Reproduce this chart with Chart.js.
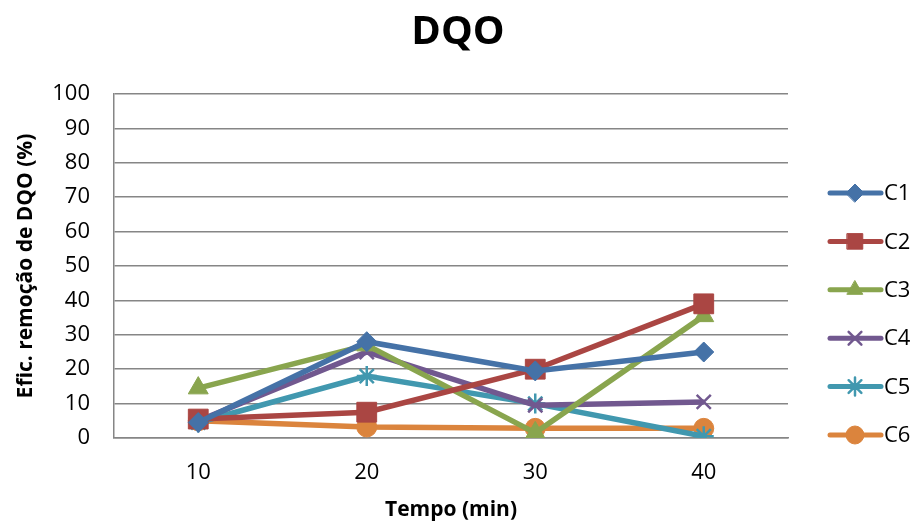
<!DOCTYPE html>
<html>
<head>
<meta charset="utf-8">
<script src="https://cdn.jsdelivr.net/npm/chart.js@4/dist/chart.umd.min.js"></script>
<style>
  html, body { margin: 0; padding: 0; background: #fff; }
  #wrap { width: 916px; height: 527px; }
</style>
</head>
<body>
<div id="wrap"><canvas id="myChart" width="916" height="527"></canvas></div>
<script>
// data
var tempos = ['10', '20', '30', '40'];
var c1 = [4.5, 28, 19.5, 25];
var c2 = [5.5, 7.5, 20, 39];
var c3 = [14.5, 27, 1.5, 35.5];
var c4 = [5, 25, 9.5, 10.5];
var c5 = [4.5, 18, 10, 0.5];
var c6 = [5, 3.2, 2.8, 2.8];
var seriesNames = ['C1', 'C2', 'C3', 'C4', 'C5', 'C6'];
var yTicks = [0, 10, 20, 30, 40, 50, 60, 70, 80, 90, 100];

var colors = ['#4572A7', '#AA4643', '#89A54E', '#71588F', '#4198AF', '#DB843D'];
var styles = ['rectRot', 'rect', 'triangle', 'crossRot', 'star', 'circle'];
var radii = [10, 14, 11.5, 10, 10, 10];
var values = [c1, c2, c3, c4, c5, c6];
var font = "'Open Sans', 'Liberation Sans', sans-serif";

var datasets = seriesNames.map(function (name, i) {
  var thin = (styles[i] == 'crossRot' || styles[i] == 'star');
  return {
    label: name,
    data: values[i],
    borderColor: colors[i],
    backgroundColor: colors[i],
    borderWidth: 5.5,
    pointStyle: styles[i],
    pointRadius: radii[i],
    pointHoverRadius: radii[i],
    pointBorderWidth: thin ? 2.5 : 1,
    tension: 0
  };
});

// legend: line with marker, drawn at the right side
var sideLegend = {
  id: 'sideLegend',
  afterDraw: function (chart) {
    var ctx = chart.ctx;
    var startY = 193, step = 48.4;
    ctx.save();
    datasets.forEach(function (ds, i) {
      var y = startY + i * step;
      ctx.strokeStyle = ds.borderColor;
      ctx.lineWidth = 5;
      ctx.lineCap = 'round';
      ctx.beginPath();
      ctx.moveTo(830, y);
      ctx.lineTo(881, y);
      ctx.stroke();
      ctx.fillStyle = ds.backgroundColor;
      ctx.lineWidth = ds.pointBorderWidth;
      var r = ds.pointStyle == 'rect' ? 11 : 9;
      Chart.helpers.drawPoint(ctx, {pointStyle: ds.pointStyle, radius: r, rotation: 0, borderWidth: ds.pointBorderWidth}, 855, y);
      ctx.fillStyle = '#000';
      ctx.font = '22px ' + font;
      ctx.textBaseline = 'middle';
      ctx.textAlign = 'left';
      ctx.fillText(ds.label, 884, y + 1);
    });
    ctx.restore();
  }
};

var ctx = document.getElementById('myChart').getContext('2d');
var myChart = new Chart(ctx, {
  type: 'line',
  data: { labels: tempos, datasets: datasets },
  plugins: [sideLegend],
  options: {
    responsive: false,
    animation: false,
    layout: { padding: { left: 9, right: 9, top: 0, bottom: 0 } },
    plugins: {
      legend: { display: false },
      tooltip: { enabled: false },
      title: {
        display: true,
        text: 'DQO',
        color: '#000',
        font: { family: font, size: 40, weight: 'bold' },
        padding: { top: 9, bottom: 37 }
      }
    },
    scales: {
      x: {
        offset: true,
        afterFit: function (s) { s.height = 89; },
        grid: { display: false, drawTicks: false },
        border: { color: '#868686', width: 1.5 },
        ticks: { color: '#000', font: { family: font, size: 22 }, padding: 22 },
        title: {
          display: true,
          text: 'Tempo (min)',
          color: '#000',
          font: { family: font, size: 21, weight: 'bold' },
          padding: { top: 5 }
        }
      },
      y: {
        min: 0,
        max: 100,
        afterFit: function (s) { s.width = 105; },
        afterBuildTicks: function (s) { s.ticks = yTicks.map(function (v) { return { value: v }; }); },
        grid: { color: '#868686', lineWidth: 1.5, drawTicks: false },
        border: { color: '#868686', width: 1.5 },
        ticks: { color: '#000', font: { family: font, size: 22 }, padding: 24 },
        title: {
          display: true,
          text: 'Efic. remoção de DQO (%)',
          color: '#000',
          font: { family: font, size: 21, weight: 'bold' },
          padding: { bottom: 0 }
        }
      },
      // empty axis that keeps room on the right for the legend
      side: {
        position: 'right',
        display: true,
        afterFit: function (s) { s.width = 119; },
        grid: { display: false, drawTicks: false },
        border: { display: false },
        ticks: { display: false }
      }
    }
  }
});
</script>
</body>
</html>
